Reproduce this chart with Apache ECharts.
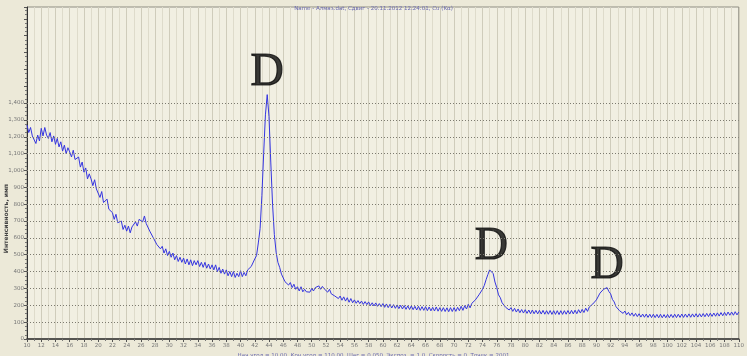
<!DOCTYPE html>
<html><head><meta charset="utf-8">
<script src="https://cdn.jsdelivr.net/npm/echarts@6/dist/echarts.min.js"></script>
<style>html,body{margin:0;padding:0;background:#ece9d8}#c{width:747px;height:356px}</style>
</head><body><div id="c"></div>
<script>
// 2θ from 10° to 110° in steps of 0.25°
const angleStart = 10, angleStep = 0.25;
const intensity = [
1270,1225,1255,1205, 1195,1160,1210,1175, 1250,1205,1255,1210, 1190,1225,1170,1205,
1155,1190,1140,1170, 1115,1150,1100,1135, 1110,1080,1120,1065, 1065,1080,1020,1050,
990,1015,950,980, 950,910,945,890, 885,840,875,810, 805,830,770,765,
750,710,740,690, 685,700,650,675, 640,670,630,665, 665,695,670,710,
720,695,730,685, 675,640,635,600, 595,560,570,535, 550,510,535,495,
520,485,510,470, 495,460,485,455, 480,445,475,440, 470,435,465,440,
465,430,455,425, 455,420,445,415, 440,410,440,400, 425,390,415,385,
410,375,400,370, 400,365,390,370, 405,370,395,375, 410,400,430,435,
475,495,570,655, 850,1100,1330,1450, 1320,1050,800,620, 515,455,425,385,
375,340,350,320, 335,305,325,295, 310,285,310,280, 295,280,290,278,
300,285,305,295, 315,295,312,298, 300,278,295,268, 275,255,262,240,
255,230,250,225, 245,218,240,215, 232,212,228,210, 225,205,222,204,
220,198,215,196, 214,194,210,192, 210,188,208,186, 206,184,204,182,
202,180,200,178, 198,176,197,175, 196,174,194,172, 194,170,192,170,
192,168,190,167, 188,166,190,165, 186,164,186,163, 185,162,186,163,
186,164,188,168, 194,170,198,178, 206,185,212,205, 232,228,262,265,
295,318,352,382, 410,420,388,338, 305,262,245,215, 212,188,195,172,
186,164,182,160, 178,156,175,154, 174,152,172,150, 172,150,170,149,
170,148,170,147, 168,147,169,146, 168,146,168,145, 168,146,168,147,
169,148,170,149, 171,150,174,154, 176,157,183,164, 190,182,208,204,
232,238,272,275, 295,295,305,282, 268,235,220,192, 192,168,172,152,
166,144,158,139, 155,135,152,133, 150,130,148,129, 148,128,147,127,
147,127,146,126, 147,126,145,126, 146,126,146,127, 147,127,147,128,
148,128,148,129, 149,129,149,130, 150,130,150,131, 151,132,152,133,
153,134,154,135, 155,136,157,138, 158,139,160,141, 160,141,162,143,
160
];
const peakAngles = [43.75, 75.25, 91.5];
const peakIntensity = [1450, 420, 305];
const peakLabels = ['D', 'D', 'D'];
const gridValues = [100,200,300,400,500,600,700,800,900,1000,1100,1200,1300,1400];
const titleText = 'Name - Алмаз.dat, Сдвиг - 20.11.2012 12:24:01, Cu (Kα)';
const footerText = 'Нач.угол = 10.00, Кон.угол = 110.00, Шаг = 0.050, Экспоз. = 1.0, Скорость = 0, Точек = 2001';
const yTitle = 'Интенсивность, имп';

const lineData = intensity.map((v, i) => [angleStart + i * angleStep, v]);
const peakData = peakAngles.map((a, i) => ({value: [a, peakIntensity[i]], name: peakLabels[i]}));

const chart = echarts.init(document.getElementById('c'), null, {renderer: 'canvas'});
chart.setOption({
  backgroundColor: '#ece9d8',
  animation: false,
  title: [
    {text: titleText, left: 'center', top: 1, textStyle: {fontSize: 5.5, fontWeight: 'normal', color: '#6b6bb0', fontFamily: 'DejaVu Sans'}},
    {text: footerText, left: 'center', top: 348, textStyle: {fontSize: 5.5, fontWeight: 'normal', color: '#6b6bb0', fontFamily: 'DejaVu Sans'}}
  ],
  graphic: [{
    type: 'text', left: 3, top: 184, rotation: Math.PI / 2,
    style: {text: yTitle, fontSize: 6, fontWeight: 'bold', fill: '#444', fontFamily: 'DejaVu Sans'}
  }],
  grid: {left: 27, right: 7, top: 7, bottom: 17, show: true, backgroundColor: '#f1efe2', borderColor: '#8f8d82', borderWidth: 1},
  xAxis: {
    type: 'value', min: 10, max: 110, interval: 2,
    axisLine: {show: true, onZero: false, lineStyle: {color: '#333', width: 1.5}},
    axisTick: {show: true, length: 3, lineStyle: {color: '#555'}},
    minorTick: {show: true, splitNumber: 2, length: 2, lineStyle: {color: '#777'}},
    axisLabel: {fontSize: 5.5, color: '#777', margin: 4, fontFamily: 'DejaVu Sans'},
    splitLine: {show: true, lineStyle: {color: '#cfccbb', width: 1}},
    minorSplitLine: {show: true, lineStyle: {color: '#dedbcb', width: 1}}
  },
  yAxis: {
    type: 'value', min: 0, max: 1970, interval: 100,
    axisLine: {show: true, lineStyle: {color: '#333', width: 1}},
    axisTick: {show: true, length: 3, lineStyle: {color: '#555'}},
    minorTick: {show: true, splitNumber: 4, length: 2, lineStyle: {color: '#777'}},
    axisLabel: {fontSize: 5.5, color: '#777', margin: 3, fontFamily: 'DejaVu Sans',
      formatter: v => v > 1400 ? '' : (v >= 1000 ? (Math.floor(v/1000) + ',' + String(v%1000).padStart(3,'0')) : String(v))},
    splitLine: {show: false}
  },
  series: [
    {
      type: 'line', data: lineData, showSymbol: false, symbol: 'none',
      lineStyle: {color: '#3535e0', width: 1}, z: 3,
      markLine: {
        silent: true, symbol: 'none', label: {show: false},
        lineStyle: {color: '#7d7b70', type: [1, 2], width: 1},
        data: gridValues.map(v => ({yAxis: v}))
      }
    },
    {
      type: 'scatter', data: peakData, symbolSize: 1, itemStyle: {color: 'rgba(0,0,0,0)'}, z: 4,
      label: {show: true, position: 'top', distance: 0, formatter: p => p.name,
        fontSize: 46, fontWeight: 'normal', lineHeight: 42, color: '#0a0a0a',
        textBorderColor: '#0a0a0a', textBorderWidth: 1.2, fontFamily: 'Liberation Serif'}
    }
  ]
});
</script></body></html>
